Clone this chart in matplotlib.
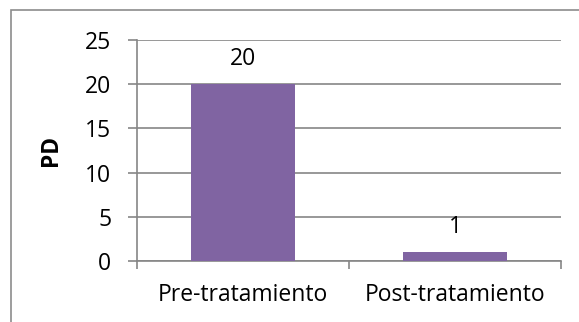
import matplotlib
matplotlib.use('Agg')
import matplotlib.pyplot as plt
from matplotlib.patches import Rectangle

categories = ["Pre-tratamiento", "Post-tratamiento"]
values = [20, 1]
yticks = [0, 5, 10, 15, 20, 25]

plt.rcParams['font.family'] = ['Open Sans', 'DejaVu Sans']

W, H = 579, 322
fig = plt.figure(figsize=(W / 100, H / 100), dpi=100)

# outer chart border (cut off at right/bottom like the screenshot)
fig.patches.append(Rectangle((11 / W, -0.1), 1.2, (H - 10) / H + 0.1,
                             transform=fig.transFigure, fill=False,
                             edgecolor='#8c8c8c', linewidth=1.2))

ax = fig.add_axes([137 / W, (H - 261) / H, (561 - 137) / W, (261 - 40) / H])
x = range(len(categories))
ax.bar(x, values, width=0.495, color='#8064A2', zorder=3)
ax.set_xlim(-0.5, 1.5)
ax.set_ylim(0, 25)
ax.set_yticks(yticks)
ax.yaxis.grid(True, color='#868686', linewidth=1.2, zorder=0)
ax.set_axisbelow(True)

for s in ['top', 'right']:
    ax.spines[s].set_visible(False)
for s in ['left', 'bottom']:
    ax.spines[s].set_color('#868686')
    ax.spines[s].set_linewidth(1.2)

fs = 16.5
ax.set_xticks([-0.5, 0.5, 1.5])
ax.set_xticklabels([])
ax.set_xticks(list(x), minor=True)
ax.set_xticklabels(categories, minor=True, fontsize=fs)
ax.tick_params(axis='x', which='major', length=5.5, color='#868686', width=1.2)
ax.tick_params(axis='x', which='minor', length=0, pad=16)
ax.tick_params(axis='y', length=6.5, color='#868686', width=1.2, labelsize=fs, pad=12)

ax.set_ylabel('PD', fontsize=fs, fontweight='bold', labelpad=16)

for i, v in zip(x, values):
    ax.annotate(str(v), (i, v), xytext=(0, 14), textcoords='offset points',
                ha='center', va='baseline', fontsize=fs)

fig.savefig('out.png', dpi=100)
